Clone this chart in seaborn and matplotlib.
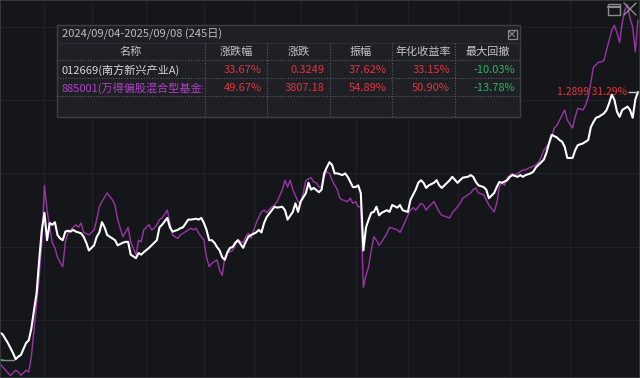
"""Fund vs. benchmark cumulative return, dark terminal style."""
import matplotlib
matplotlib.use("Agg")
import matplotlib.pyplot as plt
from matplotlib.patches import Rectangle
import seaborn as sns
import pandas as pd

# trading-day index (0 = 2024/09/04) and cumulative return in %
white_day = [0, 1, 3, 5, 6, 7, 8, 10, 11, 12, 13, 14, 15, 16, 17, 18, 19, 20, 21, 22, 23, 24, 25, 26, 27, 28, 29,
             31, 32, 33, 34, 36, 37, 38, 39, 40, 41, 43, 44, 45, 47, 48, 49, 50, 52, 53, 54, 55, 57, 58, 59, 60,
             61, 62, 64, 65, 66, 68, 69, 70, 72, 73, 75, 76, 77, 78, 79, 80, 81, 82, 83, 84, 85, 86, 87, 88, 89,
             90, 91, 93, 94, 95, 96, 98, 99, 100, 101, 102, 104, 105, 106, 108, 109, 110, 112, 113, 114, 115, 117,
             118, 119, 120, 122, 123, 124, 125, 126, 127, 128, 129, 131, 132, 133, 135, 136, 137, 138, 139, 140,
             141, 142, 143, 144, 145, 146, 148, 149, 150, 152, 153, 154, 156, 157, 158, 159, 160, 161, 162, 163,
             164, 166, 167, 168, 169, 171, 172, 173, 175, 176, 177, 179, 180, 181, 182, 183, 185, 186, 187, 189,
             190, 191, 192, 194, 195, 196, 198, 199, 200, 201, 203, 204, 205, 206, 208, 209, 210, 211, 213, 214,
             215, 216, 217, 219, 220, 221, 223, 224, 225, 226, 227, 228, 229, 231, 232, 233, 234, 235, 236, 237,
             238, 240, 241, 242, 243, 244]
white_ret = [3.2, 3.0, 2.0, 0.8, 0.1, 0.4, 0.6, 2.0, 2.3, 3.7, 5.8, 7.8, 11.7, 15.2, 17.2, 14.0, 16.0, 15.8, 16.1,
             14.6, 14.2, 14.0, 15.0, 15.1, 15.0, 15.2, 15.0, 14.8, 14.4, 13.7, 12.8, 13.4, 14.4, 14.9, 16.1, 15.5,
             14.6, 14.2, 14.0, 13.4, 13.7, 13.8, 13.8, 12.3, 11.9, 12.5, 12.3, 12.6, 13.1, 13.4, 13.7, 14.0,
             15.5, 15.8, 16.6, 15.5, 15.0, 15.2, 15.4, 15.5, 16.4, 16.4, 16.5, 16.4, 16.6, 16.0, 15.2, 14.0, 14.0,
             13.7, 13.2, 12.8, 12.0, 11.7, 12.6, 13.1, 13.2, 13.7, 14.0, 13.1, 13.8, 14.4, 14.6, 14.9, 15.2, 14.9,
             16.0, 16.7, 17.5, 17.9, 17.8, 17.9, 17.5, 16.4, 17.3, 18.3, 17.3, 18.5, 19.5, 20.7, 19.9, 20.1, 19.6,
             19.9, 21.8, 22.5, 23.1, 22.8, 21.8, 21.8, 21.6, 21.8, 21.4, 20.2, 20.2, 20.4, 19.5, 12.8, 15.5, 16.4,
             17.2, 17.3, 17.9, 16.9, 17.2, 17.5, 17.3, 18.1, 17.8, 18.1, 17.5, 17.3, 18.7, 19.3, 19.9, 20.7, 21.0,
             20.7, 20.1, 20.4, 20.7, 21.0, 20.4, 20.1, 20.7, 21.0, 21.4, 20.7, 21.0, 21.3, 21.4, 21.6, 21.4, 20.8,
             20.4, 20.2, 19.9, 18.9, 19.5, 20.2, 20.8, 20.7, 21.0, 21.4, 21.6, 21.4, 21.6, 21.4, 21.6, 21.8, 22.0,
             22.5, 22.8, 23.4, 24.2, 25.3, 26.3, 26.0, 25.7, 25.5, 24.9, 23.6, 23.6, 24.5, 25.1, 25.3, 25.5, 25.7,
             27.2, 27.8, 28.3, 28.4, 28.8, 29.2, 30.0, 31.0, 30.4, 29.0, 28.4, 29.2, 29.6, 29.2, 28.3, 30.4, 31.3]

purple_day = [0, 1, 3, 4, 6, 7, 8, 10, 11, 12, 13, 14, 15, 16, 17, 18, 19, 20, 21, 22, 23, 24, 25, 26, 27, 29, 30,
              31, 32, 34, 36, 37, 38, 39, 41, 43, 44, 45, 47, 48, 49, 50, 52, 53, 54, 55, 57, 58, 59, 60,
              61, 62, 64, 65, 66, 68, 69, 70, 72, 73, 74, 75, 76, 78, 79, 80, 81, 83, 84, 85, 86, 87, 89, 90, 91,
              93, 94, 95, 96, 98, 99, 100, 101, 102, 104, 105, 106, 108, 109, 110, 111, 112, 114, 115, 116, 117,
              119, 120, 121, 122, 123, 124, 125, 126, 127, 129, 130, 131, 133, 134, 135, 136, 137, 138, 139, 140,
              141, 142, 143, 144, 145, 146, 148, 149, 150, 152, 153, 154, 156, 157, 158, 159, 161, 162, 163, 164,
              166, 167, 168, 169, 171, 172, 173, 175, 176, 177, 179, 180, 181, 182, 183, 185, 186, 187, 189, 190,
              191, 192, 193, 194, 196, 197, 198, 200, 201, 202, 203, 205, 206, 207, 208, 210, 211, 212, 213, 215,
              216, 217, 219, 220, 221, 223, 224, 225, 226, 227, 229, 230, 231, 232, 234, 235, 236, 237, 238, 239,
              240, 241, 242, 243, 244]
purple_ret = [-0.4, -0.8, -1.5, -1.8, -1.2, -1.4, -1.8, -1.2, -1.4, 0.4, 3.5, 6.7, 9.7, 13.7, 20.4, 17.5, 15.5, 13.7,
              13.1, 12.0, 11.4, 10.9, 13.8, 14.8, 15.2, 15.8, 15.5, 16.0, 14.9, 14.6, 15.2, 16.4, 17.9, 18.5, 19.5,
              18.7, 18.1, 16.4, 14.4, 14.9, 15.5, 13.8, 12.3, 14.0, 13.8, 15.2, 15.8, 15.2, 15.4, 15.8,
              16.4, 16.6, 17.5, 16.0, 14.6, 14.2, 14.6, 14.8, 15.2, 15.4, 15.2, 15.4, 14.8, 14.0, 12.0, 10.9, 11.3,
              11.7, 10.5, 9.9, 12.0, 12.5, 12.8, 13.4, 14.0, 13.7, 14.4, 14.8, 14.2, 16.0, 16.7, 17.3, 17.5, 17.2,
              17.9, 18.1, 18.5, 19.9, 21.0, 20.2, 21.0, 19.9, 18.5, 18.3, 19.5, 21.0, 21.3, 20.8, 20.7, 20.2,
              20.2, 21.4, 22.0, 21.8, 21.0, 19.9, 18.9, 18.7, 18.5, 18.9, 18.3, 18.5, 17.9, 17.9, 8.5, 9.9,
              10.9, 12.8, 14.4, 14.0, 13.4, 13.8, 14.8, 15.5, 15.4, 15.2, 14.9, 15.5, 16.9, 17.5, 17.8, 17.5, 18.3,
              18.1, 17.5, 17.9, 18.5, 17.9, 17.3, 16.9, 16.7, 16.6, 17.2, 17.9, 18.3, 18.9, 19.3, 19.5, 19.9, 20.1,
              19.5, 19.3, 18.7, 18.1, 17.3, 18.3, 20.2, 20.7, 20.4, 21.3, 21.8, 21.6, 21.8, 22.2, 22.2, 22.4, 22.5,
              22.8, 23.1, 23.7, 24.5, 25.3, 26.0, 27.1, 27.4, 28.6, 29.2, 28.0, 27.1, 28.4, 29.4, 29.2, 29.8, 30.7,
              32.4, 34.2, 34.8, 34.8, 35.0, 36.2, 38.5, 39.1, 38.2, 37.1, 39.4, 40.9, 41.5, 39.9, 38.9, 36.0, 39.7]

# first trading day of each month (vertical grid)
month_starts = [17, 35, 56, 78, 97, 115, 136, 156, 175, 195, 218]
hgrid = [4.7, 13.2, 21.8, 30.4, 38.9]

headers = ["名称", "涨跌幅", "涨跌", "振幅", "年化收益率", "最大回撤"]
names = ["012669(南方新兴产业A)", "885001(万得偏股混合型基金指数)"]
row_vals = [["33.67%", "0.3249", "37.62%", "33.15%", "-10.03%"],
            ["49.67%", "3807.18", "54.89%", "50.90%", "-13.78%"]]
title_txt = "2024/09/04-2025/09/08 (245日)"
last_label = "1.2899 31.29%"

BG = "#15161a"
RED = "#e3343c"
GREEN = "#2db463"
PURPLE = "#9b35a6"

sns.set_theme(style="dark", rc={"axes.facecolor": BG, "figure.facecolor": BG})
plt.rcParams['font.family'] = ['Noto Sans CJK SC', 'DejaVu Sans']

fig = plt.figure(figsize=(6.4, 3.78), dpi=100)
ax = fig.add_axes([0, 0, 1, 1])
ax.set_facecolor(BG)

df_w = pd.DataFrame({"day": white_day, "ret": white_ret})
df_p = pd.DataFrame({"day": purple_day, "ret": purple_ret})
sns.lineplot(data=df_p, x="day", y="ret", color=PURPLE, lw=1.0, ax=ax)
sns.lineplot(data=df_w, x="day", y="ret", color="#ffffff", lw=1.5, ax=ax)

ax.set_xlim(0, 244.8)
ax.set_ylim(-2.1, 42.05)
ax.set_xticks(month_starts)
ax.set_yticks(hgrid)
ax.set_xticklabels([])
ax.set_yticklabels([])
ax.tick_params(length=0)
ax.grid(True, color="#202227", lw=0.8)
ax.set_xlabel("")
ax.set_ylabel("")
for sp in ax.spines.values():
    sp.set_visible(True)
    sp.set_color("#3c3d42")
    sp.set_linewidth(1.2)

# base marker and last value label
ax.plot([0, 5.5], [0, 0], color="#8a8a8a", lw=1)
ax.plot([0, 1.2], [0, 0], color=GREEN, lw=1.2)
ax.hlines(white_ret[-1], 240.2, 244.6, color="#c8c8c8", lw=1)
ax.annotate(last_label, xy=(240.0, white_ret[-1]), xytext=(0, 0), textcoords="offset points",
            ha="right", va="center", color=RED, fontsize=7.5)

# overlay in pixel units for the summary table and window icons
ov = fig.add_axes([0, 0, 1, 1])
ov.set_xlim(0, 640)
ov.set_ylim(378, 0)
ov.axis("off")
ov.patch.set_alpha(0)

ov.add_patch(Rectangle((57, 25), 463, 92, fc="#1f2025", ec="#3e3f44", lw=1))
ov.text(62, 34.5, title_txt, color="#bcbcbc", fontsize=8, va="center", ha="left")
ov.add_patch(Rectangle((507.5, 29.5), 9, 9, fc="none", ec="#8a8a8a", lw=0.9))
ov.plot([509.5, 514.5], [31.5, 36.5], color="#8a8a8a", lw=0.8)
ov.plot([509.5, 514.5], [36.5, 31.5], color="#8a8a8a", lw=0.8)

ov.plot([57, 520], [43, 43], color="#2c2d32", lw=1)
for yy in [60, 78, 96]:
    ov.plot([57, 520], [yy, yy], color="#5c5d62", lw=0.8, ls=(0, (1, 1.5)))
seps = [205, 267, 330, 392, 455]
for xx in seps:
    ov.plot([xx, xx], [43, 117], color="#5c5d62", lw=0.8, ls=(0, (1, 1.5)))

col_left = [57] + seps
col_right = seps + [520]
for i, hd in enumerate(headers):
    ov.text((col_left[i] + col_right[i]) / 2, 52, hd, color="#c4c4c4", fontsize=8, ha="center", va="center")

row_y = [70, 88]
name_colors = ["#d6d6d6", "#b040c8"]
clip = Rectangle((57, 60), 146, 40, transform=ov.transData)
for r, (nm, vals) in enumerate(zip(names, row_vals)):
    t = ov.text(62, row_y[r], nm, color=name_colors[r], fontsize=8, ha="left", va="center", clip_on=True)
    t.set_clip_path(clip)
    for j, v in enumerate(vals):
        col = GREEN if v.startswith("-") and j == 4 else RED
        ov.text(col_right[j + 1] - 5, row_y[r], v, color=col, fontsize=8, ha="right", va="center")

# window icons top-right
ov.add_patch(Rectangle((608, 4), 12, 11, fc="none", ec="#8c8c8c", lw=1))
ov.plot([608, 620], [6.5, 6.5], color="#8c8c8c", lw=1.5)
ov.plot([624, 636], [3, 15], color="#8c8c8c", lw=1)
ov.plot([624, 636], [15, 3], color="#8c8c8c", lw=1)

fig.savefig("out.png", dpi=100, facecolor=BG)
